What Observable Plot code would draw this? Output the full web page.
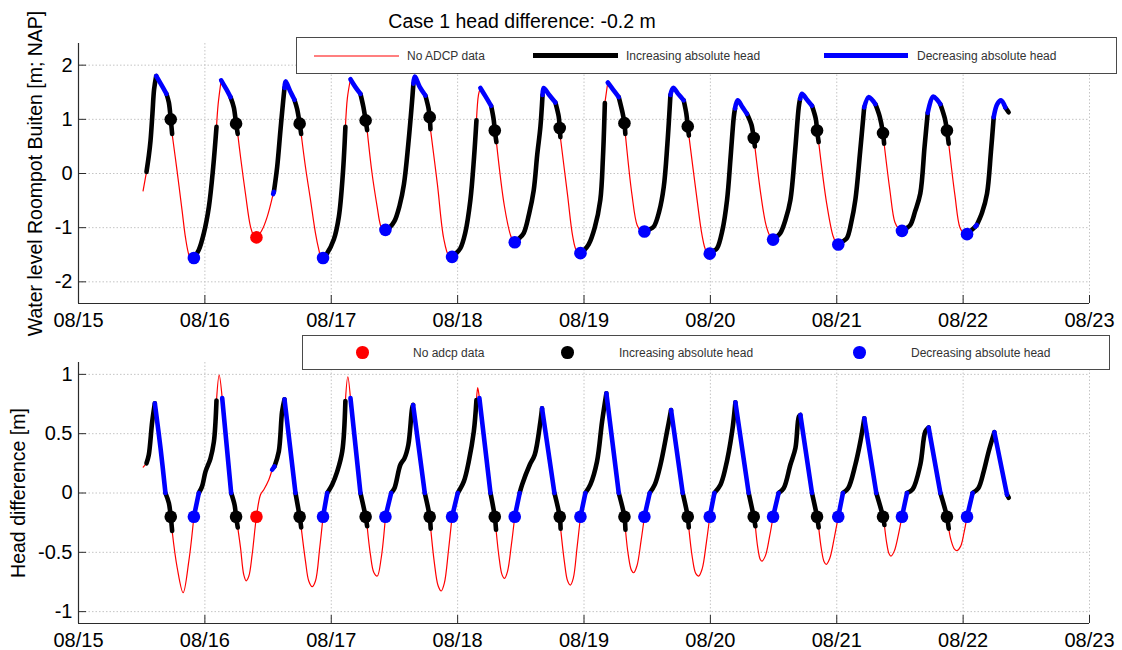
<!DOCTYPE html>
<html>
<head>
<meta charset="utf-8">
<script src="https://cdn.jsdelivr.net/npm/d3@7"></script>
<script src="https://cdn.jsdelivr.net/npm/@observablehq/plot@0.6"></script>
<style>
  body { margin: 0; background: #fff; }
  #fig { position: relative; width: 1122px; height: 650px; overflow: hidden;
         font-family: "Liberation Sans", Arial, Helvetica, sans-serif; color: #000; }
  #fig svg { position: absolute; left: 0; }
  .title { position: absolute; top: 10px; left: 0; width: 1044px; text-align: center;
           font-size: 19.5px; line-height: 22px; }
  .legend { position: absolute; background: #fff; border: 1px solid #4a4a4a; box-sizing: border-box; z-index: 2; }
  .legend span { position: absolute; font-size: 12px; line-height: 14px; color: #333; white-space: nowrap; }
  .legend i { position: absolute; display: block; }
</style>
</head>
<body>
<div id="fig"></div>
<script>
// Time axis: days counted from 15 August 00:00
const dateTicks = ["2014-08-15","2014-08-16","2014-08-17","2014-08-18","2014-08-19",
                   "2014-08-20","2014-08-21","2014-08-22","2014-08-23"];
const levelTicks = [-2, -1, 0, 1, 2];
const headTicks = [-1, -0.5, 0, 0.5, 1];
const headThreshold = -0.2;   // case 1 head difference [m]

// state of the stretch starting at each sample: n = no ADCP data, i = increasing |head|, d = decreasing |head|
// water level Roompot Buiten [m NAP]: [day, level, state]
const levelTrace = [
  [0.511,-0.32,"n"],[0.538,0.03,"i"],[0.556,0.32,"i"],[0.570,0.61,"i"],[0.585,1.10,"i"],[0.598,1.55,"i"],[0.615,1.80,"d"],[0.655,1.64,"d"],[0.696,1.47,"i"],[0.715,1.31,"i"],[0.730,1.00,"i"],[0.741,0.73,"n"],[0.781,0.03,"n"],[0.820,-0.69,"n"],[0.847,-1.19,"n"],[0.873,-1.50,"n"],[0.898,-1.63,"n"],
  [0.913,-1.56,"i"],[0.952,-1.41,"i"],[0.992,-1.10,"i"],[1.032,-0.61,"i"],[1.066,0.12,"i"],[1.092,0.86,"n"],[1.105,1.28,"n"],[1.129,1.72,"d"],[1.166,1.57,"d"],[1.203,1.41,"i"],[1.229,1.22,"i"],[1.247,0.92,"i"],[1.260,0.73,"n"],[1.282,0.31,"n"],[1.321,-0.37,"n"],[1.361,-0.98,"n"],[1.387,-1.15,"n"],
  [1.408,-1.18,"n"],[1.453,-1.04,"n"],[1.493,-0.80,"n"],[1.540,-0.38,"d"],[1.546,-0.34,"i"],[1.572,0.12,"i"],[1.598,0.80,"i"],[1.620,1.35,"i"],[1.630,1.58,"d"],[1.638,1.70,"d"],[1.675,1.52,"d"],[1.709,1.36,"i"],[1.730,1.19,"i"],[1.750,0.92,"i"],[1.762,0.73,"n"],[1.796,0.12,"n"],[1.836,-0.49,"n"],[1.875,-1.10,"n"],[1.902,-1.41,"n"],[1.922,-1.58,"n"],
  [1.935,-1.56,"i"],[1.968,-1.47,"i"],[2.020,-1.22,"i"],[2.060,-0.80,"i"],[2.092,0.00,"i"],[2.112,0.86,"n"],[2.128,1.40,"n"],[2.152,1.74,"d"],[2.190,1.60,"d"],[2.231,1.47,"i"],[2.255,1.22,"i"],[2.272,0.98,"i"],[2.284,0.80,"n"],[2.323,0.00,"n"],[2.363,-0.61,"n"],[2.389,-0.95,"n"],[2.412,-1.06,"n"],
  [2.429,-1.04,"i"],[2.460,-1.00,"i"],[2.500,-0.88,"i"],[2.540,-0.60,"i"],[2.575,-0.20,"i"],[2.610,0.55,"i"],[2.640,1.35,"i"],[2.650,1.66,"d"],[2.661,1.79,"d"],[2.700,1.60,"d"],[2.745,1.44,"i"],[2.770,1.20,"i"],[2.779,1.04,"i"],[2.785,0.82,"n"],[2.840,-0.20,"n"],[2.890,-1.20,"n"],[2.930,-1.52,"n"],
  [2.956,-1.54,"i"],[2.985,-1.48,"i"],[3.022,-1.38,"i"],[3.060,-1.10,"i"],[3.101,-0.49,"i"],[3.130,0.30,"i"],[3.149,0.98,"n"],[3.165,1.45,"n"],[3.180,1.58,"d"],[3.222,1.42,"d"],[3.265,1.25,"i"],[3.285,1.00,"i"],[3.294,0.795,"i"],[3.307,0.58,"n"],[3.370,-0.60,"n"],[3.420,-1.15,"n"],[3.440,-1.25,"n"],
  [3.452,-1.27,"i"],[3.485,-1.20,"i"],[3.523,-1.10,"i"],[3.565,-0.75,"i"],[3.602,-0.31,"i"],[3.630,0.35,"i"],[3.655,0.86,"i"],[3.672,1.45,"d"],[3.681,1.58,"d"],[3.725,1.45,"d"],[3.774,1.31,"i"],[3.800,1.05,"i"],[3.808,0.84,"i"],[3.813,0.67,"n"],[3.870,-0.40,"n"],[3.910,-1.15,"n"],[3.940,-1.42,"n"],
  [3.972,-1.47,"i"],[4.000,-1.42,"i"],[4.037,-1.31,"i"],[4.085,-1.00,"i"],[4.129,-0.49,"i"],[4.150,0.30,"i"],[4.165,1.30,"n"],[4.188,1.68,"d"],[4.230,1.55,"d"],[4.275,1.41,"i"],[4.305,1.12,"i"],[4.320,0.93,"i"],[4.327,0.73,"n"],[4.380,-0.40,"n"],[4.420,-0.95,"n"],[4.450,-1.06,"n"],
  [4.478,-1.07,"i"],[4.510,-1.04,"i"],[4.552,-0.98,"i"],[4.595,-0.70,"i"],[4.631,-0.25,"i"],[4.660,0.55,"i"],[4.684,1.45,"d"],[4.705,1.58,"d"],[4.745,1.47,"d"],[4.789,1.35,"i"],[4.810,1.10,"i"],[4.821,0.87,"i"],[4.830,0.70,"n"],[4.890,-0.40,"n"],[4.935,-1.15,"n"],[4.965,-1.42,"n"],
  [4.995,-1.48,"i"],[5.025,-1.43,"i"],[5.053,-1.38,"i"],[5.095,-1.05,"i"],[5.132,-0.49,"i"],[5.160,0.30,"i"],[5.185,1.04,"i"],[5.195,1.20,"d"],[5.216,1.35,"d"],[5.255,1.22,"d"],[5.290,1.10,"i"],[5.325,0.90,"i"],[5.343,0.654,"i"],[5.352,0.50,"n"],[5.400,-0.40,"n"],[5.440,-0.95,"n"],[5.470,-1.15,"n"],
  [5.496,-1.22,"i"],[5.525,-1.17,"i"],[5.554,-1.10,"i"],[5.595,-0.85,"i"],[5.633,-0.49,"i"],[5.670,0.40,"i"],[5.699,1.22,"i"],[5.710,1.38,"d"],[5.725,1.47,"d"],[5.765,1.36,"d"],[5.804,1.25,"i"],[5.835,1.00,"i"],[5.844,0.795,"i"],[5.857,0.58,"n"],[5.920,-0.55,"n"],[5.970,-1.15,"n"],[5.995,-1.28,"n"],
  [6.012,-1.31,"i"],[6.045,-1.26,"i"],[6.081,-1.19,"i"],[6.115,-0.90,"i"],[6.147,-0.49,"i"],[6.185,0.40,"i"],[6.217,1.22,"d"],[6.252,1.41,"d"],[6.280,1.36,"d"],[6.306,1.28,"i"],[6.340,1.05,"i"],[6.366,0.746,"i"],[6.375,0.55,"n"],[6.420,-0.30,"n"],[6.460,-0.90,"n"],[6.490,-1.02,"n"],
  [6.516,-1.06,"i"],[6.545,-1.02,"i"],[6.582,-0.95,"i"],[6.620,-0.70,"i"],[6.661,-0.37,"i"],[6.695,0.50,"i"],[6.720,1.12,"d"],[6.762,1.42,"d"],[6.795,1.36,"d"],[6.820,1.28,"i"],[6.855,1.02,"i"],[6.872,0.795,"i"],[6.886,0.55,"n"],[6.935,-0.40,"n"],[6.975,-1.00,"n"],[7.005,-1.10,"n"],
  [7.031,-1.12,"i"],[7.060,-1.06,"i"],[7.097,-0.98,"d"],[7.108,-0.95,"i"],[7.150,-0.72,"i"],[7.189,-0.37,"i"],[7.220,0.40,"i"],[7.242,1.04,"d"],[7.270,1.28,"d"],[7.300,1.35,"d"],[7.334,1.22,"i"],[7.360,1.13,"i"]
];

// head difference [m]: [day, head, state]
const headTrace = [
  [0.512,0.218,"n"],[0.538,0.25,"i"],[0.556,0.32,"i"],[0.583,0.60,"i"],[0.604,0.756,"d"],[0.649,0.38,"d"],[0.688,0.00,"i"],[0.715,-0.085,"i"],[0.730,-0.20,"i"],[0.741,-0.32,"n"],[0.781,-0.63,"n"],[0.828,-0.84,"n"],[0.873,-0.574,"n"],
  [0.913,-0.20,"d"],[0.952,0.00,"i"],[0.978,0.056,"i"],[1.005,0.18,"i"],[1.044,0.29,"i"],[1.071,0.43,"i"],[1.084,0.60,"i"],[1.092,0.78,"n"],[1.113,0.994,"n"],[1.137,0.80,"d"],[1.208,0.00,"i"],[1.235,-0.10,"i"],[1.247,-0.20,"i"],[1.260,-0.29,"n"],[1.282,-0.46,"n"],[1.308,-0.69,"n"],[1.327,-0.74,"n"],[1.348,-0.70,"n"],[1.374,-0.52,"n"],
  [1.408,-0.20,"n"],[1.440,-0.014,"n"],[1.466,0.028,"n"],[1.506,0.112,"n"],[1.532,0.196,"d"],[1.551,0.224,"i"],[1.585,0.35,"i"],[1.611,0.686,"i"],[1.630,0.79,"d"],[1.717,0.00,"i"],[1.750,-0.20,"i"],[1.762,-0.29,"n"],[1.796,-0.574,"n"],[1.822,-0.742,"n"],[1.849,-0.79,"n"],[1.875,-0.742,"n"],[1.909,-0.46,"n"],
  [1.935,-0.20,"d"],[1.968,0.00,"i"],[2.007,0.07,"i"],[2.047,0.18,"i"],[2.087,0.35,"i"],[2.112,0.776,"n"],[2.131,0.98,"n"],[2.152,0.80,"d"],[2.231,0.00,"i"],[2.272,-0.20,"i"],[2.284,-0.28,"n"],[2.310,-0.52,"n"],[2.337,-0.67,"n"],[2.364,-0.70,"n"],[2.395,-0.55,"n"],
  [2.429,-0.20,"d"],[2.474,0.00,"i"],[2.500,0.04,"i"],[2.547,0.238,"i"],[2.580,0.294,"i"],[2.610,0.406,"i"],[2.640,0.714,"i"],[2.648,0.742,"d"],[2.740,0.00,"i"],[2.779,-0.20,"i"],[2.787,-0.30,"n"],[2.815,-0.58,"n"],[2.845,-0.78,"n"],[2.870,-0.826,"n"],[2.895,-0.76,"n"],[2.928,-0.48,"n"],
  [2.956,-0.20,"d"],[3.001,0.00,"i"],[3.050,0.10,"i"],[3.088,0.266,"i"],[3.128,0.518,"i"],[3.149,0.784,"n"],[3.159,0.888,"n"],[3.172,0.80,"d"],[3.260,0.00,"i"],[3.294,-0.20,"i"],[3.304,-0.31,"n"],[3.330,-0.56,"n"],[3.352,-0.69,"n"],[3.371,-0.72,"n"],[3.395,-0.66,"n"],[3.425,-0.44,"n"],
  [3.452,-0.20,"d"],[3.491,0.00,"i"],[3.510,0.07,"i"],[3.571,0.238,"i"],[3.610,0.322,"i"],[3.655,0.602,"i"],[3.668,0.714,"d"],[3.766,0.00,"i"],[3.808,-0.20,"i"],[3.815,-0.30,"n"],[3.845,-0.58,"n"],[3.870,-0.74,"n"],[3.892,-0.776,"n"],[3.915,-0.72,"n"],[3.945,-0.46,"n"],
  [3.972,-0.20,"d"],[4.011,0.00,"i"],[4.050,0.07,"i"],[4.103,0.266,"i"],[4.143,0.602,"i"],[4.177,0.84,"d"],[4.275,0.00,"i"],[4.320,-0.20,"i"],[4.328,-0.31,"n"],[4.350,-0.52,"n"],[4.375,-0.65,"n"],[4.394,-0.672,"n"],[4.420,-0.61,"n"],[4.452,-0.40,"n"],
  [4.478,-0.20,"d"],[4.520,0.00,"i"],[4.560,0.07,"i"],[4.605,0.238,"i"],[4.657,0.518,"i"],[4.689,0.70,"d"],[4.781,0.00,"i"],[4.821,-0.20,"i"],[4.829,-0.29,"n"],[4.858,-0.55,"n"],[4.885,-0.68,"n"],[4.908,-0.70,"n"],[4.935,-0.64,"n"],[4.968,-0.42,"n"],
  [4.995,-0.20,"d"],[5.032,0.00,"i"],[5.080,0.07,"i"],[5.119,0.21,"i"],[5.172,0.518,"i"],[5.198,0.765,"d"],[5.303,0.00,"i"],[5.343,-0.20,"i"],[5.356,-0.28,"n"],[5.375,-0.46,"n"],[5.395,-0.56,"n"],[5.409,-0.574,"n"],[5.435,-0.53,"n"],[5.468,-0.37,"n"],
  [5.496,-0.20,"d"],[5.540,0.00,"i"],[5.580,0.04,"i"],[5.633,0.238,"i"],[5.673,0.378,"i"],[5.700,0.644,"i"],[5.712,0.658,"d"],[5.804,0.00,"i"],[5.844,-0.20,"i"],[5.857,-0.29,"n"],[5.878,-0.47,"n"],[5.900,-0.58,"n"],[5.917,-0.602,"n"],[5.945,-0.55,"n"],[5.980,-0.38,"n"],
  [6.012,-0.20,"d"],[6.049,0.00,"i"],[6.090,0.04,"i"],[6.147,0.238,"i"],[6.187,0.434,"i"],[6.218,0.63,"d"],[6.313,0.00,"i"],[6.366,-0.20,"i"],[6.377,-0.27,"n"],[6.395,-0.42,"n"],[6.413,-0.51,"n"],[6.429,-0.532,"n"],[6.455,-0.49,"n"],[6.488,-0.35,"n"],
  [6.516,-0.20,"d"],[6.556,0.00,"i"],[6.600,0.03,"i"],[6.661,0.238,"i"],[6.701,0.518,"i"],[6.727,0.552,"d"],[6.820,0.00,"i"],[6.872,-0.20,"i"],[6.886,-0.30,"n"],[6.905,-0.40,"n"],[6.930,-0.47,"n"],[6.952,-0.485,"n"],[6.980,-0.45,"n"],[7.008,-0.33,"n"],
  [7.031,-0.20,"d"],[7.075,0.00,"i"],[7.120,0.04,"i"],[7.163,0.182,"i"],[7.202,0.35,"i"],[7.247,0.513,"d"],[7.347,-0.014,"i"],[7.361,-0.04,"i"]
];

// moments where the head difference crosses the case threshold
const markDay   = [0.730,0.913,1.247,1.408,1.750,1.935,2.272,2.429,2.779,2.956,3.294,3.452,3.808,3.972,
                   4.320,4.478,4.821,4.995,5.343,5.496,5.844,6.012,6.366,6.516,6.872,7.031];
const markState = ["i","d","i","n","i","d","i","d","i","d","i","d","i","d",
                   "i","d","i","d","i","d","i","d","i","d","i","d"];
const markLevel = [1.00,-1.56,0.92,-1.18,0.92,-1.56,0.98,-1.04,1.04,-1.54,0.795,-1.27,0.84,-1.47,
                   0.93,-1.07,0.87,-1.48,0.654,-1.22,0.795,-1.31,0.746,-1.06,0.795,-1.12];

const stateColor = {n: "#ff0000", i: "#000000", d: "#0000ff"};
const legendLabels = {
  top: ["No ADCP data", "Increasing absolute head", "Decreasing absolute head"],
  bottom: ["No adcp data", "Increasing absolute head", "Decreasing absolute head"]
};

const origin = Date.UTC(2014, 7, 15);
const toDate = d => new Date(origin + d * 864e5);
const dates = dateTicks.map(d3.utcParse("%Y-%m-%d"));
const fmt = d3.utcFormat("%m/%d");
const fontFamily = '"Liberation Sans", Arial, Helvetica, sans-serif';

// split a trace into runs of constant state; neighbouring runs share their end point
function runs(trace) {
  const rows = [];
  let start = 0, id = 0;
  for (let i = 1; i < trace.length; i++) {
    if (i === trace.length - 1 || trace[i][2] !== trace[start][2]) {
      for (let j = start; j <= i; j++) {
        rows.push({t: toDate(trace[j][0]), v: trace[j][1], state: trace[start][2], run: id});
      }
      id++;
      start = i;
    }
  }
  return rows;
}

const marks = markDay.map((d, k) => ({t: toDate(d), level: markLevel[k], head: headThreshold, state: markState[k]}));

function panel({trace, yDomain, yTicks, yLabel, labelDx, height, marginTop, yKey, top}) {
  const marginBottom = 27, marginLeft = 78, marginRight = 33, width = 1122;
  const plotH = height - marginTop - marginBottom;
  const plotW = width - marginLeft - marginRight;
  const rows = runs(trace);
  const grid = {stroke: "#c4c4c4", strokeOpacity: 1, strokeDasharray: "1.5,2"};
  const thick = {x: "t", y: "v", z: "run", strokeWidth: 4.6, curve: "catmull-rom"};
  const svg = Plot.plot({
    width, height, marginTop, marginBottom, marginLeft, marginRight,
    style: {fontFamily, fontSize: "20px", color: "#000", background: "transparent", overflow: "visible"},
    x: {type: "utc", domain: [dates[0], dates[dates.length - 1]], label: null},
    y: {domain: yDomain, label: null},
    marks: [
      Plot.gridX(dates, grid),
      Plot.gridY(yTicks, grid),
      Plot.ruleX([dates[0]], {stroke: "#2b2b2b", strokeWidth: 1.2}),
      Plot.ruleY([yDomain[0]], {stroke: "#2b2b2b", strokeWidth: 1.2}),
      Plot.tickX(dates, {x: d => d, insetTop: plotH - 8, stroke: "#2b2b2b"}),
      Plot.tickY(yTicks, {y: d => d, insetRight: plotW - 8, stroke: "#2b2b2b"}),
      Plot.axisX(dates, {tickSize: 0, tickPadding: 9, tickFormat: fmt, label: null, fontSize: 20}),
      Plot.axisY(yTicks, {tickSize: 0, tickPadding: 6, tickFormat: d => String(d), label: null, fontSize: 20}),
      Plot.text([yLabel], {text: d => d, frameAnchor: "left", textAnchor: "middle", lineAnchor: "middle",
                           dx: labelDx, rotate: -90, fontSize: 19.5}),
      Plot.line(rows.filter(r => r.state === "n"), {x: "t", y: "v", z: "run", stroke: stateColor.n, strokeWidth: 1.2, curve: "catmull-rom"}),
      Plot.line(rows.filter(r => r.state === "i"), {...thick, stroke: stateColor.i}),
      Plot.line(rows.filter(r => r.state === "d"), {...thick, stroke: stateColor.d}),
      Plot.dot(marks, {x: "t", y: yKey, r: 6.3, fill: d => stateColor[d.state], stroke: "none"})
    ]
  });
  svg.style.top = top + "px";
  return svg;
}

const fig = document.getElementById("fig");

const title = document.createElement("div");
title.className = "title";
title.textContent = `Case 1 head difference: ${headThreshold} m`;
fig.appendChild(title);

fig.appendChild(panel({
  trace: levelTrace, yDomain: [-2.4, 2.4], yTicks: levelTicks,
  yLabel: "Water level Roompot Buiten [m; NAP]", labelDx: -43,
  height: 330, marginTop: 43, yKey: "level", top: 0
}));
fig.appendChild(panel({
  trace: headTrace, yDomain: [-1.1, 1.1], yTicks: headTicks,
  yLabel: "Head difference [m]", labelDx: -60,
  height: 320, marginTop: 32, yKey: "head", top: 330
}));

// legend boxes
function legend({left, top, width, height, items}) {
  const box = document.createElement("div");
  box.className = "legend";
  Object.assign(box.style, {left: left + "px", top: top + "px", width: width + "px", height: height + "px"});
  const cy = height / 2;
  for (const it of items) {
    const sw = document.createElement("i");
    if (it.kind === "line") {
      Object.assign(sw.style, {left: (it.x0 - left) + "px", top: (cy - it.w / 2 - 1) + "px",
        width: (it.x1 - it.x0) + "px", height: it.w + "px", background: it.color});
    } else {
      Object.assign(sw.style, {left: (it.cx - left - 6.3) + "px", top: (cy - 6.3 - 1) + "px",
        width: "12.6px", height: "12.6px", borderRadius: "50%", background: it.color});
    }
    box.appendChild(sw);
    const tx = document.createElement("span");
    tx.textContent = it.label;
    Object.assign(tx.style, {left: (it.tx - left - 1) + "px", top: (cy - 8) + "px"});
    box.appendChild(tx);
  }
  fig.appendChild(box);
}

legend({left: 296, top: 37, width: 821, height: 37, items: [
  {kind: "line", x0: 313, x1: 398, w: 2, color: "#ff7f7f", tx: 407, label: legendLabels.top[0]},
  {kind: "line", x0: 532, x1: 617, w: 5, color: stateColor.i, tx: 626, label: legendLabels.top[1]},
  {kind: "line", x0: 823, x1: 907, w: 5, color: stateColor.d, tx: 917, label: legendLabels.top[2]}
]});
legend({left: 302, top: 335, width: 808, height: 35, items: [
  {kind: "dot", cx: 361.7, color: stateColor.n, tx: 413, label: legendLabels.bottom[0]},
  {kind: "dot", cx: 566.7, color: stateColor.i, tx: 619, label: legendLabels.bottom[1]},
  {kind: "dot", cx: 858.3, color: stateColor.d, tx: 911, label: legendLabels.bottom[2]}
]});
</script>
</body>
</html>
